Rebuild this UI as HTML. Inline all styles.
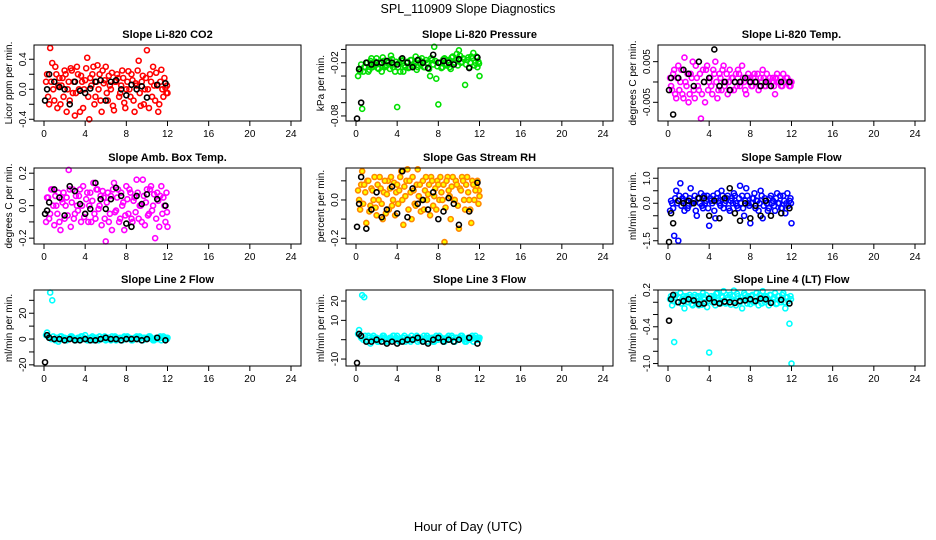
<!DOCTYPE html>
<html><head><meta charset="utf-8">
<style>
html,body{margin:0;padding:0;background:#fff;}
svg{display:block;font-family:"Liberation Sans",Arial,sans-serif;}
</style></head>
<body>
<svg id="chart" width="936" height="540" viewBox="0 0 936 540">
<text x="468" y="13" text-anchor="middle" font-size="12.5">SPL_110909  Slope Diagnostics</text>
<text x="468" y="531" text-anchor="middle" font-size="13">Hour of Day (UTC)</text>
</svg>
<script>
const hoursColored = [0.2,0.4,0.6,0.8,1.0,1.2,1.4,1.6,1.8,2.0,2.2,2.4,2.6,2.8,3.0,3.2,3.4,3.6,3.8,4.0,4.2,4.4,4.6,4.8,5.0,5.2,5.4,5.6,5.8,6.0,6.2,6.4,6.6,6.8,7.0,7.2,7.4,7.6,7.8,8.0,8.2,8.4,8.6,8.8,9.0,9.2,9.4,9.6,9.8,10.0,10.2,10.4,10.6,10.8,11.0,11.2,11.4,11.6,11.8,12.0];
const hoursColored2 = [0.3,0.5,0.7,0.9,1.1,1.3,1.5,1.7,1.9,2.1,2.3,2.5,2.7,2.9,3.1,3.3,3.5,3.7,3.9,4.1,4.3,4.5,4.7,4.9,5.1,5.3,5.5,5.7,5.9,6.1,6.3,6.5,6.7,6.9,7.1,7.3,7.5,7.7,7.9,8.1,8.3,8.5,8.7,8.9,9.1,9.3,9.5,9.7,9.9,10.1,10.3,10.5,10.7,10.9,11.1,11.3,11.5,11.7,11.9,11.95];
const hoursBlack = [0.1,0.3,0.5,1.0,1.5,2.0,2.5,3.0,3.5,4.0,4.5,5.0,5.5,6.0,6.5,7.0,7.5,8.0,8.5,9.0,9.5,10.0,11.0,11.8];
const xTicks = [0,4,8,12,16,20,24];

const co2Colored = [0.1,-0.1,0.55,0.35,-0.15,0.2,0.05,-0.2,0.15,0.25,-0.3,0.1,0.28,-0.05,-0.35,0.3,0.0,0.18,-0.25,0.12,0.42,-0.4,0.05,0.3,-0.1,0.32,0.2,-0.3,0.08,0.3,-0.15,0.05,0.22,-0.28,0.1,0.15,-0.05,0.25,-0.18,0.0,0.24,-0.1,0.12,-0.3,0.05,0.38,-0.22,0.18,0.0,0.52,-0.25,0.1,0.3,-0.15,0.05,-0.2,0.26,-0.1,0.02,-0.05];
const co2Colored2 = [0.2,-0.2,0.1,0.0,0.3,-0.25,0.15,0.05,-0.1,0.2,0.0,-0.15,0.25,0.1,-0.05,0.2,-0.3,0.1,0.0,0.28,-0.1,0.15,0.2,-0.2,0.1,0.0,-0.15,0.25,0.12,-0.05,0.18,0.0,-0.22,0.1,0.2,-0.1,0.05,0.15,-0.25,0.1,0.0,0.2,-0.15,0.08,0.25,-0.05,0.1,-0.2,0.15,0.0,0.2,-0.1,0.05,0.22,-0.3,0.1,0.0,0.15,-0.05,0.05];
const co2Black = [-0.15,0.0,0.2,0.1,0.03,0.0,-0.2,0.1,-0.02,-0.05,0.01,0.1,0.12,-0.15,0.1,0.12,0.0,-0.08,0.06,0.0,0.04,-0.11,0.06,0.08];
const presColored = [-0.035,-0.03,-0.072,-0.025,-0.02,-0.03,-0.018,-0.025,-0.022,-0.015,-0.027,-0.02,-0.014,-0.025,-0.023,-0.018,-0.012,-0.025,-0.03,-0.07,-0.02,-0.016,-0.03,-0.025,-0.019,-0.025,-0.017,-0.023,-0.013,-0.025,-0.02,-0.015,-0.025,-0.017,-0.021,-0.035,-0.017,-0.002,-0.038,-0.067,-0.02,-0.025,-0.015,-0.023,-0.017,-0.027,-0.013,-0.02,-0.01,-0.006,-0.02,-0.015,-0.045,-0.017,-0.025,-0.013,-0.009,-0.02,-0.025,-0.035];
const presColored2 = [-0.028,-0.022,-0.03,-0.025,-0.02,-0.028,-0.015,-0.023,-0.019,-0.026,-0.021,-0.03,-0.018,-0.024,-0.02,-0.027,-0.016,-0.022,-0.019,-0.025,-0.03,-0.018,-0.023,-0.02,-0.026,-0.017,-0.024,-0.021,-0.028,-0.016,-0.022,-0.019,-0.025,-0.02,-0.027,-0.015,-0.022,-0.018,-0.024,-0.02,-0.026,-0.016,-0.021,-0.018,-0.025,-0.014,-0.02,-0.017,-0.023,-0.012,-0.019,-0.016,-0.022,-0.014,-0.02,-0.015,-0.023,-0.013,-0.019,-0.021];
const presBlack = [-0.083,-0.027,-0.065,-0.02,-0.022,-0.02,-0.02,-0.018,-0.02,-0.022,-0.015,-0.02,-0.025,-0.017,-0.02,-0.026,-0.011,-0.02,-0.018,-0.02,-0.022,-0.016,-0.026,-0.014];
const tempColored = [0.001,-0.002,0.003,-0.004,0.004,0.0,-0.003,0.006,-0.001,-0.005,0.002,0.005,-0.004,0.001,-0.002,-0.009,0.003,-0.005,0.004,0.0,-0.001,0.003,0.005,-0.004,0.002,-0.002,0.004,0.0,-0.003,0.003,0.001,-0.002,0.002,0.003,-0.001,0.004,0.0,-0.003,0.002,0.001,-0.001,0.002,0.0,-0.002,0.001,0.003,-0.001,0.002,0.0,-0.001,0.001,-0.003,0.002,0.0,-0.001,0.002,0.0,0.001,-0.001,0.0];
const tempColored2 = [-0.001,0.002,-0.003,0.001,-0.002,0.003,-0.004,0.0,0.002,-0.003,0.001,-0.002,0.004,-0.001,0.002,-0.003,0.0,0.003,-0.002,0.001,-0.003,0.002,0.0,-0.002,0.001,0.003,-0.001,0.002,0.0,-0.002,0.001,0.0,-0.001,0.002,0.0,0.001,-0.002,0.001,0.0,-0.001,0.001,0.0,0.002,-0.001,0.0,0.001,-0.001,0.0,0.001,0.0,-0.001,0.001,0.0,0.001,-0.001,0.0,0.001,0.0,-0.001,0.0];
const tempBlack = [-0.002,0.001,-0.008,0.001,0.003,0.002,-0.001,0.005,0.0,0.001,0.008,-0.001,0.0,-0.002,0.0,0.0,0.001,0.0,0.0,-0.001,0.0,-0.001,0.0,0.0];
const ambColored = [-0.1,0.05,-0.05,0.1,-0.12,0.0,0.08,-0.15,0.02,-0.08,0.05,0.22,-0.13,0.1,-0.05,0.0,0.06,-0.1,0.12,-0.05,0.08,0.0,-0.1,0.14,-0.08,0.1,0.0,-0.12,0.05,-0.22,0.08,-0.05,-0.15,0.14,-0.03,0.1,-0.08,0.0,-0.15,0.12,-0.05,0.08,-0.1,0.05,0.16,-0.08,0.0,0.16,-0.12,0.1,-0.05,0.12,0.0,-0.2,0.08,-0.13,0.12,0.05,-0.1,-0.13];
const ambColored2 = [0.05,-0.08,0.1,0.0,0.06,-0.05,-0.1,0.04,0.08,0.0,-0.06,0.1,0.02,-0.08,0.06,-0.03,0.1,0.0,-0.07,0.04,-0.1,0.08,0.03,-0.05,0.1,-0.02,0.06,0.09,-0.08,0.02,-0.1,0.06,0.1,-0.04,0.05,-0.1,0.08,0.02,-0.06,0.04,0.1,-0.08,0.03,-0.04,0.08,0.0,-0.1,0.06,0.02,-0.06,0.1,-0.03,0.07,-0.08,0.03,0.06,-0.05,0.0,0.08,-0.04];
const ambBlack = [-0.05,-0.03,0.02,0.1,0.05,-0.06,0.12,0.09,0.01,-0.05,-0.02,0.14,0.04,-0.02,0.04,0.11,0.06,-0.11,-0.13,0.06,0.01,0.07,0.04,0.0];
const rhColored = [0.05,-0.05,0.15,0.08,-0.12,0.1,-0.03,0.05,0.12,-0.08,0.0,0.06,-0.1,0.1,0.03,-0.05,0.12,0.0,-0.08,0.08,0.05,0.15,-0.13,0.02,0.16,0.1,-0.1,0.05,-0.03,0.16,0.08,0.0,-0.05,0.12,0.03,-0.08,0.1,0.02,-0.05,0.08,0.12,0.0,-0.22,0.1,0.05,-0.1,0.12,0.0,0.08,-0.15,0.05,0.1,-0.05,0.12,0.0,-0.12,0.08,0.05,0.1,0.02];
const rhColored2 = [0.0,0.08,-0.02,0.04,0.1,-0.06,0.06,0.0,-0.04,0.08,0.12,-0.02,0.04,-0.07,0.1,0.06,-0.03,0.09,0.04,-0.02,0.12,0.0,0.07,0.1,-0.05,0.04,0.12,-0.02,0.08,0.02,-0.06,0.1,0.05,0.0,0.08,0.12,-0.03,0.06,0.1,0.0,0.04,0.08,-0.04,0.12,0.02,0.07,0.0,0.1,-0.03,0.06,0.12,0.0,0.08,0.04,-0.05,0.1,0.0,0.07,-0.02,0.05];
const rhBlack = [-0.14,-0.02,0.12,-0.15,-0.05,0.04,-0.09,-0.05,0.07,-0.07,0.15,-0.09,0.06,-0.02,0.0,-0.05,0.04,-0.1,-0.06,0.01,-0.02,-0.13,-0.06,0.09];
const sampleColored = [-0.3,0.0,-1.3,0.5,-1.5,0.8,0.2,-0.3,0.1,-0.1,0.6,0.0,0.3,-0.5,0.2,0.4,-0.2,0.0,0.3,-0.9,0.1,0.3,-0.6,0.4,0.0,0.5,-0.2,0.1,0.3,-0.3,0.2,0.4,0.0,-0.2,0.7,0.3,-0.5,0.6,0.0,-0.8,0.2,0.4,0.1,-0.3,0.5,-0.6,0.2,0.0,-0.2,0.3,0.1,-0.3,0.4,0.0,-0.2,0.3,-0.4,0.4,0.1,-0.8];
const sampleColored2 = [0.1,-0.2,0.2,0.0,0.3,-0.1,0.1,0.3,-0.2,0.2,0.0,0.1,-0.3,0.2,0.0,-0.1,0.3,0.1,-0.2,0.2,0.0,-0.3,0.2,0.1,-0.1,0.3,0.0,0.2,-0.2,0.1,0.0,0.3,-0.1,0.2,0.0,-0.2,0.1,0.3,-0.1,0.0,0.2,-0.2,0.1,0.0,0.3,-0.1,0.1,-0.3,0.2,0.0,-0.1,0.2,0.0,0.3,-0.2,0.1,0.0,-0.1,0.2,0.0];
const sampleBlack = [-1.55,-0.4,-0.8,0.1,0.0,0.1,0.0,0.2,0.2,-0.5,0.1,-0.6,0.2,0.6,-0.4,-0.7,0.0,-0.6,-0.1,-0.5,0.1,-0.5,-0.4,-0.2];
const line2Colored = [3,2,36,30,0,1,-2,2,0,1,-1,0,2,1,-1,0,1,2,0,3,-1,0,1,-1,1,0,2,0,1,-1,1,0,2,1,-1,0,1,-1,2,0,1,0,-1,1,2,0,1,-1,1,0,2,1,-1,0,1,1,-1,2,0,1];
const line2Colored2 = [5,1,0,2,-1,1,0,2,1,-1,0,1,2,0,-1,1,0,2,1,0,-1,1,2,0,1,-1,0,1,2,0,1,-1,0,2,1,0,-1,1,0,2,1,-1,0,1,0,2,-1,1,0,1,2,0,-1,1,0,2,1,0,1,0];
const line2Black = [-18,3,1,0,0,-1,0,-1,-1,0,-1,-1,0,1,0,0,-1,0,0,0,-1,0,1,-1];
const line3Colored = [3,2,23,22,0,2,-2,1,0,1,-1,0,2,1,-1,0,1,2,0,2,-1,0,1,-1,1,0,2,0,1,-1,1,0,2,1,-1,0,1,-1,2,0,1,0,-1,1,2,0,1,-1,1,0,2,1,-1,0,1,1,-1,2,0,1];
const line3Colored2 = [5,1,0,2,-1,1,0,2,1,-1,0,1,2,0,-1,1,0,2,1,0,-1,1,2,0,1,-1,0,1,2,0,1,-1,0,2,1,0,-1,1,0,2,1,-1,0,1,0,2,-1,1,0,1,2,0,-1,1,0,2,1,0,1,0];
const line3Black = [-12,3,2,-1,-1,0,-1,-2,-1,-2,-1,0,0,1,-1,-2,0,1,-1,0,-1,0,1,-2];
const line4Colored = [0.05,-0.05,-0.65,0.12,0.0,0.15,0.05,-0.1,0.1,0.0,0.08,-0.05,0.12,0.02,-0.05,0.1,0.15,0.0,-0.08,-0.82,0.1,0.05,-0.05,0.15,0.0,0.1,0.18,-0.02,0.08,0.12,0.05,0.19,-0.05,0.1,0.0,-0.1,0.15,0.05,0.1,-0.03,0.12,0.0,0.15,-0.05,0.1,0.18,0.0,0.08,-0.05,0.12,0.05,0.15,-0.02,0.1,0.0,0.15,-0.1,0.08,-0.35,-1.0];
const line4Colored2 = [0.1,0.02,0.12,0.0,0.08,-0.02,0.1,0.05,0.0,0.12,-0.03,0.08,0.02,0.1,0.0,-0.04,0.08,0.12,0.02,0.06,0.0,0.1,0.14,0.03,-0.02,0.08,0.0,0.12,0.05,-0.04,0.1,0.02,0.14,0.0,0.08,0.04,0.12,-0.02,0.06,0.1,0.0,0.08,0.03,0.12,-0.02,0.06,0.1,0.02,0.12,0.0,0.08,-0.03,0.1,0.04,0.12,0.0,0.08,0.02,0.1,0.05];
const line4Black = [-0.3,0.05,0.12,0.0,0.02,0.05,0.03,-0.03,-0.02,0.06,0.0,-0.02,0.01,0.0,-0.01,0.02,0.03,0.05,0.02,0.06,0.05,-0.01,0.04,-0.02];

const NS = 'http://www.w3.org/2000/svg';
const svg = document.getElementById('chart');
function mk(tag, attrs, parent){
  const e = document.createElementNS(NS, tag);
  for (const k in attrs) e.setAttribute(k, attrs[k]);
  (parent||svg).appendChild(e);
  return e;
}
const colLeft = [34, 346, 658];
const rowTop = [45, 168, 290];
const W = 267, H = 76;
const panels = [
 {key:'co2', title:'Slope Li-820 CO2', ylab:'Licor ppm per min.', col:0,row:0, dom:[-0.423,0.59], ticks:[-0.4,-0.2,0,0.2,0.4], labels:{'-0.4':'-0.4','0':'0.0','0.4':'0.4'}, color:'#ff0000', c:co2Colored, c2:co2Colored2, b:co2Black},
 {key:'pressure', title:'Slope Li-820 Pressure', ylab:'kPa per min.', col:1,row:0, dom:[-0.0857,0.0], ticks:[-0.08,-0.065,-0.05,-0.035,-0.02,-0.005], labels:{'-0.08':'-0.08','-0.02':'-0.02'}, color:'#00e000', c:presColored, c2:presColored2, b:presBlack},
 {key:'temp', title:'Slope Li-820 Temp.', ylab:'degrees C  per min.', col:2,row:0, dom:[-0.0096,0.0091], ticks:[-0.005,0,0.005], labels:{'-0.005':'-0.005','0.005':'0.005'}, color:'#ff00ff', c:tempColored, c2:tempColored2, b:tempBlack},
 {key:'amb-box', title:'Slope Amb. Box Temp.', ylab:'degrees C per min.', col:0,row:1, dom:[-0.236,0.232], ticks:[-0.2,-0.1,0,0.1,0.2], labels:{'-0.2':'-0.2','0':'0.0','0.2':'0.2'}, color:'#ff00ff', c:ambColored, c2:ambColored2, b:ambBlack},
 {key:'gas-rh', title:'Slope Gas Stream RH', ylab:'percent per min.', col:1,row:1, dom:[-0.23,0.167], ticks:[-0.2,-0.1,0,0.1], labels:{'-0.2':'-0.2','0':'0.0'}, color:'#ff8800', fill:'#ffff00', c:rhColored, c2:rhColored2, b:rhBlack},
 {key:'sample-flow', title:'Slope Sample Flow', ylab:'ml/min per min.', col:2,row:1, dom:[-1.63,1.41], ticks:[-1.5,-1,-0.5,0,0.5,1], labels:{'-1.5':'-1.5','0':'0.0','1':'1.0'}, color:'#0000ff', c:sampleColored, c2:sampleColored2, b:sampleBlack},
 {key:'line2-flow', title:'Slope Line 2 Flow', ylab:'ml/min per min.', col:0,row:2, dom:[-20.9,38], ticks:[-20,-10,0,10,20,30], labels:{'-20':'-20','0':'0','20':'20'}, color:'#00ffff', c:line2Colored, c2:line2Colored2, b:line2Black},
 {key:'line3-flow', title:'Slope Line 3 Flow', ylab:'ml/min per min.', col:1,row:2, dom:[-13.6,25.7], ticks:[-10,0,10,20], labels:{'-10':'-10','10':'10','20':'20'}, color:'#00ffff', c:line3Colored, c2:line3Colored2, b:line3Black},
 {key:'line4-flow', title:'Slope Line 4 (LT) Flow', ylab:'ml/min per min.', col:2,row:2, dom:[-1.04,0.2], ticks:[-1.0,-0.8,-0.6,-0.4,-0.2,0,0.2], labels:{'-1':'-1.0','-0.4':'-0.4','0.2':'0.2'}, color:'#00ffff', c:line4Colored, c2:line4Colored2, b:line4Black}
];
panels.forEach(p => {
  const L = colLeft[p.col], T = rowTop[p.row];
  const xs = h => L + 10 + h * (247/24);
  const ys = v => T + H - (v - p.dom[0]) / (p.dom[1] - p.dom[0]) * H;
  const g = mk('g', {});
  
  
  const t = mk('text', {x: L + W/2, y: T - 7, 'text-anchor':'middle', 'font-size':'11', 'font-weight':'bold'}, g);
  t.textContent = p.title;
  
  
  const yl = mk('text', {x: 0, y: 0, 'text-anchor':'middle', 'font-size':'10', transform:`translate(${L-22},${T+H/2}) rotate(-90)`}, g);
  yl.textContent = p.ylab;
  
  
  const drawSet = (hrs, vals) => {
    const n = Math.min(hrs.length, vals.length);
    for (let i = 0; i < n; i++) {
      const c = mk('circle', {cx: xs(hrs[i]), cy: ys(vals[i]), r: 2.5, fill: p.fill || 'none', stroke: p.color, 'stroke-width': 1.6}, g);
      
      
    }
  };
  drawSet(hoursColored2, p.c2);
  drawSet(hoursColored, p.c);
  const m = Math.min(hoursBlack.length, p.b.length);
  for (let i = 0; i < m; i++) {
    const c = mk('circle', {cx: xs(hoursBlack[i]), cy: ys(p.b[i]), r: 2.5, fill: 'none', stroke: '#000', 'stroke-width': 1.6}, g);
    
    
  }
  const box = mk('rect', {x: L, y: T, width: W, height: H, fill: 'none', stroke: '#000', 'stroke-width': 1}, g);
  
  
  xTicks.forEach(h => {
    mk('line', {x1: xs(h), x2: xs(h), y1: T+H, y2: T+H+5, stroke: '#000'}, g);
    const tl = mk('text', {x: xs(h), y: T+H+16, 'text-anchor':'middle', 'font-size':'10'}, g);
    tl.textContent = h;
    
    
  });
  p.ticks.forEach(v => {
    mk('line', {x1: L-5, x2: L, y1: ys(v), y2: ys(v), stroke: '#000'}, g);
    const key = String(v);
    if (p.labels[key] !== undefined) {
      const tl = mk('text', {x:0, y:0, 'text-anchor':'middle', 'font-size':'10', transform:`translate(${L-8},${ys(v)}) rotate(-90)`}, g);
      tl.textContent = p.labels[key];
      
      
    }
  });
});
</script>
</body></html>
